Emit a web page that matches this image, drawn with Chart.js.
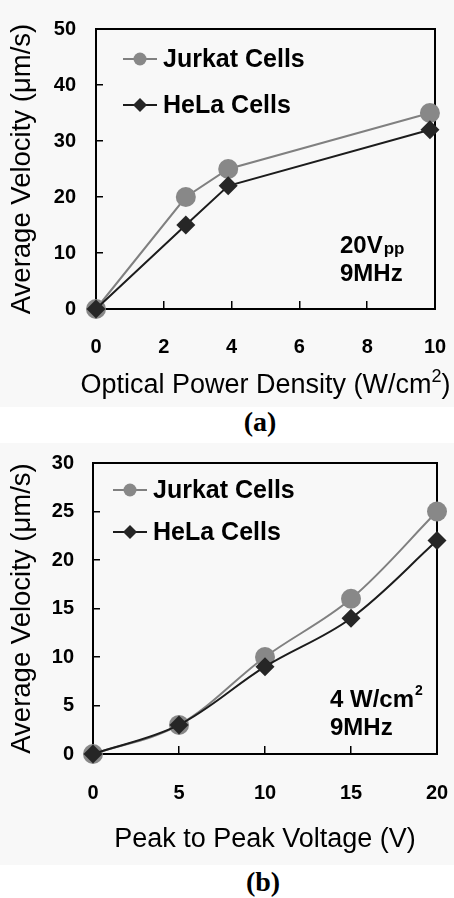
<!DOCTYPE html>
<html><head><meta charset="utf-8">
<script src="https://cdn.jsdelivr.net/npm/chart.js@4.4.1/dist/chart.umd.min.js"></script>
<style>
html,body{margin:0;padding:0;background:#fff;}
body{width:454px;height:898px;position:relative;overflow:hidden;font-family:"Liberation Sans",Arial,sans-serif;}
.band{position:absolute;left:0;width:454px;background:#f8f8f8;}
.wrap{position:absolute;left:0;width:454px;}
.cap{position:absolute;width:200px;text-align:center;font-family:"Liberation Serif","Times New Roman",serif;font-weight:bold;font-size:28px;line-height:28px;white-space:nowrap;color:#000;}
</style></head><body>
<div class="band" style="top:0;height:407px"></div>
<div class="band" style="top:443px;height:422px"></div>
<div class="wrap" style="top:0;height:405px"><canvas id="ca" width="454" height="405"></canvas></div>
<div class="wrap" style="top:445px;height:415px"><canvas id="cb" width="454" height="415"></canvas></div>
<div class="cap" style="left:160px;top:408px">(a)</div>
<div class="cap" style="left:163px;top:868px">(b)</div>
<script>
// ---- data ----
const seriesNames = ['Jurkat Cells', 'HeLa Cells'];
const powerDensity = [0, 2.65, 3.9, 9.85];
const jurkatVelA = [0, 20, 25, 35];
const helaVelA = [0, 15, 22, 32];
const voltage = [0, 5, 10, 15, 20];
const jurkatVelB = [0, 3, 10, 16, 25];
const helaVelB = [0, 3, 9, 14, 22];
const xTicksA = [0, 2, 4, 6, 8, 10];
const yTicksA = [0, 10, 20, 30, 40, 50];
const xTicksB = [0, 5, 10, 15, 20];
const yTicksB = [0, 5, 10, 15, 20, 25, 30];
const xTitleA = ['Optical Power Density (W/cm', '2', ')'];
const xTitleB = 'Peak to Peak Voltage (V)';
const yTitle = 'Average Velocity (\u03BCm/s)';
const noteA = [['20V', 'pp', 'sub'], ['9MHz', '', '']];
const noteB = [['4 W/cm', '2', 'sup'], ['9MHz', '', '']];

const FONT = '"Liberation Sans", Arial, sans-serif';

function pts(xs, ys) { return xs.map((x, i) => ({ x: x, y: ys[i] })); }

function drawMarker(ctx, style, x, y, r) {
  ctx.beginPath();
  if (style === 'circle') {
    ctx.arc(x, y, r, 0, Math.PI * 2);
  } else {
    ctx.moveTo(x - r, y); ctx.lineTo(x, y - r); ctx.lineTo(x + r, y); ctx.lineTo(x, y + r); ctx.closePath();
  }
  ctx.fill();
}

const decor = {
  id: 'decor',
  beforeDatasetsDraw(chart) {
    const { ctx, chartArea: a } = chart;
    ctx.save();
    ctx.strokeStyle = '#000'; ctx.lineWidth = 2;
    ctx.strokeRect(a.left, a.top, a.right - a.left, a.bottom - a.top);
    ctx.restore();
  },
  afterDraw(chart, args, opts) {
    const { ctx, chartArea: a } = chart;
    ctx.save();
    chart.data.datasets.forEach((ds, i) => {
      const y = a.top + opts.legendTop + i * opts.legendGap;
      const x0 = a.left + opts.legendLeft;
      ctx.strokeStyle = ds.borderColor; ctx.lineWidth = 2;
      ctx.beginPath(); ctx.moveTo(x0, y); ctx.lineTo(x0 + 34, y); ctx.stroke();
      ctx.fillStyle = ds.pointBackgroundColor;
      drawMarker(ctx, ds.pointStyle, x0 + 17, y, ds.pointStyle === 'circle' ? 6.5 : 7);
      ctx.fillStyle = '#000';
      ctx.font = 'bold 25px ' + FONT;
      ctx.textBaseline = 'middle'; ctx.textAlign = 'left';
      ctx.fillText(ds.label, x0 + 40, y + 1);
    });
    ctx.textBaseline = 'alphabetic';
    opts.note.forEach((line, i) => {
      const x = a.left + opts.noteLeft;
      const y = a.top + opts.noteTop + i * 28;
      ctx.font = 'bold 24px ' + FONT;
      ctx.fillText(line[0], x, y);
      if (line[1]) {
        const w = ctx.measureText(line[0]).width;
        if (line[2] === 'sub') { ctx.font = 'bold 17px ' + FONT; ctx.fillText(line[1], x + w + 1, y + 1); }
        else { ctx.font = 'bold 14px ' + FONT; ctx.fillText(line[1], x + w + 1, y - 12); }
      }
    });
    // x-axis title with superscript (drawn here so it is not squeezed to the axis width)
    if (opts.xTitleParts) {
      const [main, sup, tail] = opts.xTitleParts;
      const big = '27px ' + FONT, small = '18px ' + FONT;
      ctx.font = big; const w1 = ctx.measureText(main).width, w3 = ctx.measureText(tail).width;
      ctx.font = small; const w2 = ctx.measureText(sup).width;
      const total = w1 + w2 + w3;
      let x = (a.left + a.right) / 2 - total / 2;
      const y = opts.xTitleBase;
      ctx.fillStyle = '#000';
      ctx.font = big; ctx.fillText(main, x, y); x += w1;
      ctx.font = small; ctx.fillText(sup, x, y - 11); x += w2;
      ctx.font = big; ctx.fillText(tail, x, y);
    }
    ctx.restore();
  }
};

function makeChart(id, xs, ys1, ys2, xTicks, yTicks, xTitle, cfg) {
  const ownTitle = Array.isArray(xTitle);
  return new Chart(document.getElementById(id), {
    type: 'line',
    data: {
      datasets: [
        { label: seriesNames[0], data: pts(xs, ys1), borderColor: '#808080', backgroundColor: '#888888',
          pointBackgroundColor: '#888888', pointBorderColor: '#888888', pointBorderWidth: 0,
          pointStyle: 'circle', pointRadius: 10, borderWidth: 2, tension: cfg.tension, order: 1, clip: false },
        { label: seriesNames[1], data: pts(xs, ys2), borderColor: '#1c1c1c', backgroundColor: '#262626',
          pointBackgroundColor: '#262626', pointBorderColor: '#262626', pointBorderWidth: 0,
          pointStyle: 'rectRot', pointRadius: 9.5, borderWidth: 2, tension: cfg.tension, order: 0, clip: false }
      ]
    },
    options: {
      responsive: false, animation: false, devicePixelRatio: 1,
      layout: { padding: { left: 0, right: cfg.padRight, top: cfg.padTop, bottom: 0 } },
      plugins: {
        legend: { display: false }, tooltip: { enabled: false },
        decor: { legendLeft: cfg.legendLeft, legendTop: cfg.legendTop, legendGap: cfg.legendGap,
                 noteLeft: cfg.noteLeft, noteTop: cfg.noteTop, note: cfg.note,
                 xTitleParts: ownTitle ? xTitle : null, xTitleBase: cfg.xTitleBase }
      },
      scales: {
        x: {
          type: 'linear', min: xTicks[0], max: xTicks[xTicks.length - 1],
          afterBuildTicks: s => { s.ticks = xTicks.map(v => ({ value: v })); },
          afterFit: s => { s.height = cfg.xHeight; s.paddingLeft = 0; s.paddingRight = 0; },
          grid: { drawOnChartArea: false, drawTicks: true, tickLength: -8, color: '#000', lineWidth: 1.5 },
          border: { display: true, color: '#000', width: 2 },
          ticks: { color: '#000', font: { family: FONT, size: 20, weight: 'bold' }, padding: cfg.xTickPad, maxRotation: 0 },
          title: { display: !ownTitle, text: ownTitle ? '' : xTitle, color: '#000', font: { family: FONT, size: 27, weight: 'normal' }, padding: { top: 0, bottom: cfg.xTitlePad } }
        },
        y: {
          type: 'linear', min: yTicks[0], max: yTicks[yTicks.length - 1],
          afterBuildTicks: s => { s.ticks = yTicks.map(v => ({ value: v })); },
          afterFit: s => { s.width = cfg.yWidth; s.paddingTop = 0; s.paddingBottom = 0; },
          grid: { drawOnChartArea: false, drawTicks: true, tickLength: -7, color: '#000', lineWidth: 1.5 },
          border: { display: true, color: '#000', width: 2 },
          ticks: { color: '#000', font: { family: FONT, size: 20, weight: 'bold' }, padding: cfg.yTickPad },
          title: { display: true, text: yTitle, color: '#000', font: { family: FONT, size: 27.5, weight: 'normal' }, padding: { top: 6, bottom: 0 } }
        }
      }
    },
    plugins: [decor]
  });
}

makeChart('ca', powerDensity, jurkatVelA, helaVelA, xTicksA, yTicksA, xTitleA, {
  tension: 0, padRight: 19, padTop: 29, yWidth: 96, xHeight: 96, xTickPad: 34, xTitleBase: 393, xTitlePad: 2, yTickPad: 27,
  legendLeft: 27, legendTop: 30, legendGap: 46, noteLeft: 244, noteTop: 224, note: noteA
});
makeChart('cb', voltage, jurkatVelB, helaVelB, xTicksB, yTicksB, xTitleB, {
  tension: 0.35, padRight: 17, padTop: 18, yWidth: 93, xHeight: 106, xTickPad: 35, xTitleBase: 0, xTitlePad: 4, yTickPad: 26,
  legendLeft: 20, legendTop: 27, legendGap: 42, noteLeft: 237, noteTop: 244, note: noteB
});
</script>
</body></html>
